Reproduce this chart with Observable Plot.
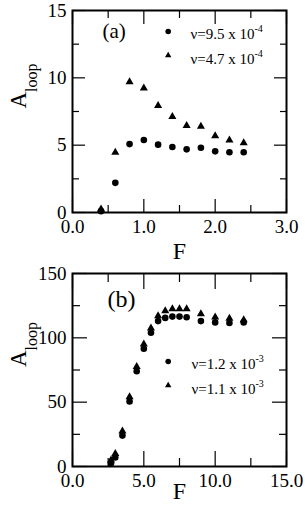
<!DOCTYPE html>
<html><head><meta charset="utf-8">
<script src="https://cdn.jsdelivr.net/npm/d3@7"></script>
<script src="https://cdn.jsdelivr.net/npm/@observablehq/plot@0.6"></script>
<style>
html,body{margin:0;padding:0;background:#fff;}
#chart{width:305px;}
#chart svg{display:block;overflow:visible;}
</style></head><body><div id="chart"></div>
<script>
// Panel (a)
const aF = [0.4, 0.6, 0.8, 1.0, 1.2, 1.4, 1.6, 1.8, 2.0, 2.2, 2.4];
const aCircle = [0.1, 2.2, 5.08, 5.38, 5.04, 4.86, 4.69, 4.81, 4.54, 4.47, 4.47];
const aTriangle = [0.25, 4.47, 9.7, 9.24, 7.93, 7.11, 6.44, 6.39, 5.68, 5.38, 5.16];
const aLegend = ["ν=9.5 x 10^-4", "ν=4.7 x 10^-4"];
const aXMajor = [0, 1, 2, 3], aXMinor = [0.5, 1.5, 2.5];
const aYMajor = [0, 5, 10, 15], aYMinor = [2.5, 7.5, 12.5];

// Panel (b)
const bF = [2.7, 3.0, 3.5, 4.0, 4.5, 5.0, 5.5, 6.0, 6.5, 7.0, 7.5, 8.0, 9.0, 10.0, 11.0, 12.0];
const bCircle = [2.5, 7, 24, 50.5, 74, 91.5, 104, 113, 115.5, 116.5, 116.5, 116, 113, 112, 111.5, 112];
const bTriangle = [5, 10, 27.5, 54, 77.5, 95, 107.5, 117, 121, 122.5, 122.5, 122.5, 118.5, 116, 115, 114];
const bLegend = ["ν=1.2 x 10^-3", "ν=1.1 x 10^-3"];
const bXMajor = [0, 5, 10, 15], bXMinor = [2.5, 7.5, 12.5];
const bYMajor = [0, 50, 100, 150], bYMinor = [25, 75, 125];

const FONT = "Liberation Serif";
const SVGNS = "http://www.w3.org/2000/svg";

function panel(o) {
  const circ = o.F.map((f, i) => ({F: f, A: o.circ[i]}));
  const tri = o.F.map((f, i) => ({F: f, A: o.tri[i]}));
  const T = o.major, t = o.minor;
  const tickOpts = {label: null, tickFormat: () => "", strokeWidth: 1.2};
  const plot = Plot.plot({
    width: 305, height: o.height,
    marginLeft: 72, marginRight: 19, marginTop: o.mt, marginBottom: o.mb,
    style: {fontFamily: FONT, background: "white", color: "black"},
    x: {domain: o.xDomain, label: null},
    y: {domain: o.yDomain, label: null},
    marks: [
      Plot.dot(circ, {x: "F", y: "A", r: 3.3, fill: "black", symbol: "circle"}),
      Plot.dot(tri, {x: "F", y: "A", r: 3.0, fill: "black", symbol: "triangle"}),
      // inward ticks on all four sides
      Plot.axisX({anchor: "bottom", ticks: o.xMajor, tickSize: -T, ...tickOpts}),
      Plot.axisX({anchor: "bottom", ticks: o.xMinor, tickSize: -t, ...tickOpts}),
      Plot.axisX({anchor: "top", ticks: o.xMajor, tickSize: -T, ...tickOpts}),
      Plot.axisX({anchor: "top", ticks: o.xMinor, tickSize: -t, ...tickOpts}),
      Plot.axisY({anchor: "left", ticks: o.yMajor, tickSize: -T, ...tickOpts}),
      Plot.axisY({anchor: "left", ticks: o.yMinor, tickSize: -t, ...tickOpts}),
      Plot.axisY({anchor: "right", ticks: o.yMajor, tickSize: -T, ...tickOpts}),
      Plot.axisY({anchor: "right", ticks: o.yMinor, tickSize: -t, ...tickOpts}),
      // tick labels
      Plot.axisX({anchor: "bottom", ticks: o.xMajor, tickSize: 0, tickPadding: 7, tickFormat: d3.format(".1f"), fontSize: 19, label: null}),
      Plot.axisY({anchor: "left", ticks: o.yMajor, tickSize: 0, tickPadding: 6, tickFormat: d => String(d), fontSize: 19, label: null}),
      Plot.frame({strokeWidth: 2}),
      // axis titles
      Plot.text(["F"], {frameAnchor: "bottom", dy: o.fDy, fontSize: 24, lineAnchor: "middle"}),
      Plot.text(["A_loop"], {frameAnchor: "left", dx: -54, dy: -3, rotate: -90, fontSize: 23, lineAnchor: "middle"}),
      // panel tag
      Plot.text([o.tag], {frameAnchor: "top-left", dx: o.tagDx, dy: o.tagDy, fontSize: o.tagSize, textAnchor: "start", lineAnchor: "middle"}),
      // legend
      Plot.dot([0], {frameAnchor: "top-left", dx: 95.7, dy: o.legDy[0], r: 2.8, fill: "black", symbol: "circle"}),
      Plot.dot([0], {frameAnchor: "top-left", dx: 95.7, dy: o.legDy[1], r: 2.4, fill: "black", symbol: "triangle"}),
      Plot.text([o.legend[0]], {frameAnchor: "top-left", dx: o.legTx, dy: o.legDy[0] + 2.5, fontSize: 15, textAnchor: "start", lineAnchor: "middle"}),
      Plot.text([o.legend[1]], {frameAnchor: "top-left", dx: o.legTx, dy: o.legDy[1] + 3.5, fontSize: 15, textAnchor: "start", lineAnchor: "middle"})
    ]
  });
  // superscripts / subscripts
  plot.querySelectorAll("text").forEach(el => {
    const s = el.textContent;
    let parts = null, size, shift;
    if (s.includes("^")) { parts = s.split("^"); size = 10; shift = -6.5; }
    else if (s.includes("_")) { parts = s.split("_"); size = 16; shift = 11; }
    if (!parts) return;
    el.textContent = parts[0];
    const ts = document.createElementNS(SVGNS, "tspan");
    ts.setAttribute("font-size", size);
    ts.setAttribute("dy", shift);
    ts.textContent = parts[1];
    el.appendChild(ts);
  });
  return plot;
}

const chart = document.getElementById("chart");
chart.appendChild(panel({
  F: aF, circ: aCircle, tri: aTriangle, legend: aLegend,
  xDomain: [0, 3], yDomain: [0, 15],
  xMajor: aXMajor, xMinor: aXMinor, yMajor: aYMajor, yMinor: aYMinor,
  height: 264, mt: 10, mb: 52, major: 13, minor: 7,
  fDy: 39, tag: "(a)", tagDx: 30, tagDy: 21, tagSize: 21,
  legDy: [21, 45], legTx: 118
}));
chart.appendChild(panel({
  F: bF, circ: bCircle, tri: bTriangle, legend: bLegend,
  xDomain: [0, 15], yDomain: [0, 150],
  xMajor: bXMajor, xMinor: bXMinor, yMajor: bYMajor, yMinor: bYMinor,
  height: 247, mt: 9, mb: 45, major: 15, minor: 8,
  fDy: 25, tag: "(b)", tagDx: 35, tagDy: 26, tagSize: 24,
  legDy: [88, 112], legTx: 119
}));
</script></body></html>
